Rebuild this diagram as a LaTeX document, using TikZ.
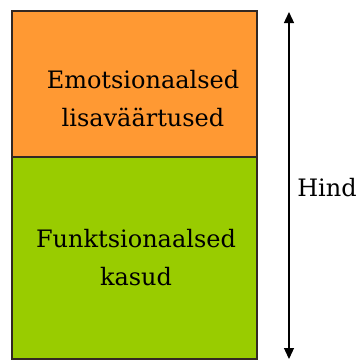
\documentclass[tikz,border=0pt]{standalone}
\usepackage{fontspec}
\setmainfont{DejaVu Serif}
\usetikzlibrary{arrows.meta}
\definecolor{emoorange}{RGB}{255,153,51}
\definecolor{funkgreen}{RGB}{153,204,0}
\definecolor{edgegray}{RGB}{51,40,35}
\tikzset{
  part/.style={rectangle, draw=edgegray, line width=1.5pt, inner sep=0pt, outer sep=0pt, minimum width=245pt},
  parttext/.style={align=center, inner sep=0pt, font=\fontsize{24}{38}\selectfont},
  pricearrow/.style={line width=1.3pt, {Triangle[width=10pt,length=11pt]}-{Triangle[width=10pt,length=11pt]}}
}
\begin{document}
\begin{tikzpicture}[x=1pt,y=-1pt]
  \useasboundingbox (0,0) rectangle (359,360);
  \node[part, minimum height=146pt] (emo) at (134.5,84) [fill=emoorange] {};
  \node[part, minimum height=202pt] (funk) at (134.5,258) [fill=funkgreen] {};
  \node[parttext] (emotext) at (143,99) {Emotsionaalsed\\lisaväärtused};
  \node[parttext] (funktext) at (136,258) {Funktsionaalsed\\kasud};
  \coordinate (top) at (289,12);
  \coordinate (bottom) at (289,359);
  \draw[pricearrow] (bottom) -- (top);
  \node[font=\fontsize{24}{30}\selectfont, inner sep=0pt] (hind) at (327,188) {Hind};
\end{tikzpicture}
\end{document}
